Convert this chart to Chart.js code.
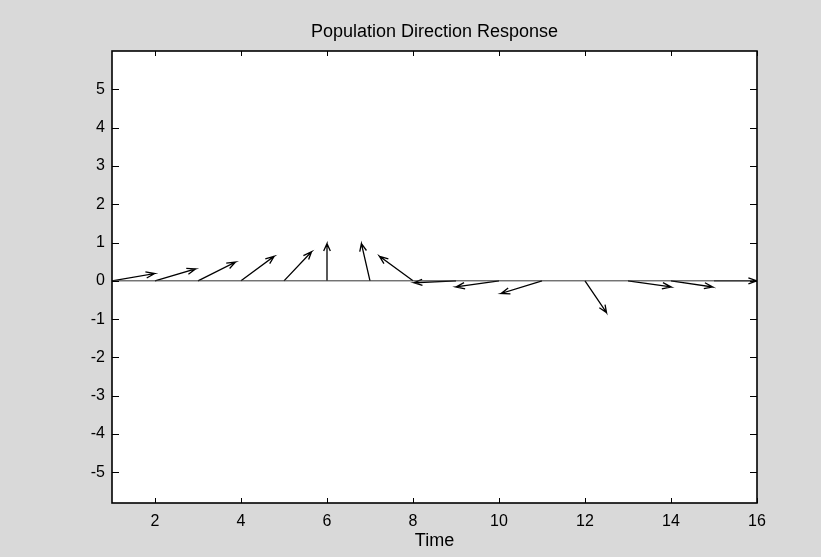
<!DOCTYPE html>
<html>
<head>
<meta charset="utf-8">
<title>Population Direction Response</title>
<script src="https://cdn.jsdelivr.net/npm/chart.js@4.4.1/dist/chart.umd.min.js"></script>
<style>
  html, body { margin: 0; padding: 0; background: #d9d9d9; }
  canvas { display: block; }
</style>
</head>
<body>
<canvas id="featherChart" width="821" height="557"></canvas>
<script>
// =============================================================================
// DATA
// =============================================================================

// arrow tails sit on y = 0 at these times
const times = [1, 2, 3, 4, 5, 6, 7, 8, 9, 10, 11, 12, 13, 14, 15];

// arrow components (east/west and north/south)
const uComp = [0.99, 0.94, 0.87, 0.77, 0.64, 0.00, -0.20, -0.78, -0.98, -1.00, -0.95, 0.50, 1.00, 0.97, 1.00];
const vComp = [0.19, 0.31, 0.49, 0.64, 0.76, 0.97, 0.97, 0.64, -0.05, -0.16, -0.33, -0.83, -0.16, -0.16, 0.00];

// axis ticks and limits
const xTicks = [2, 4, 6, 8, 10, 12, 14, 16];
const yTicks = [-5, -4, -3, -2, -1, 0, 1, 2, 3, 4, 5];
const xLimits = [1, 16];
const yLimits = [-5.8, 6];

// =============================================================================
// BUILD ARROWS (feather-style: tail, tip, barb, tip, barb)
// =============================================================================

const arrowX = [0, 1, 0.8, 1, 0.8];
const arrowY = [0, 0, 0.08, 0, -0.08];

function buildArrow(t, u, v) {
    // multiply the arrow shape by the complex number u + iv
    return arrowX.map((ax, k) => ({
        x: t + ax * u - arrowY[k] * v,
        y: ax * v + arrowY[k] * u
    }));
}

let datasets = times.map((t, i) => ({
    data: buildArrow(t, uComp[i], vComp[i]),
    showLine: true,
    borderColor: '#000000',
    borderWidth: 1.3,
    pointRadius: 0,
    tension: 0
}));

// base line along y = 0
datasets.unshift({
    data: [{ x: times[0], y: 0 }, { x: times[times.length - 1], y: 0 }],
    showLine: true,
    borderColor: '#333333',
    borderWidth: 1,
    pointRadius: 0
});

// =============================================================================
// PLUGINS
// =============================================================================

// gray figure, white axes box
const backgroundPlugin = {
    id: 'backgroundPlugin',
    beforeDraw(chart) {
        const { ctx, chartArea } = chart;
        ctx.save();
        ctx.fillStyle = '#d9d9d9';
        ctx.fillRect(0, 0, chart.width, chart.height);
        ctx.fillStyle = '#ffffff';
        ctx.fillRect(chartArea.left, chartArea.top, chartArea.right - chartArea.left, chartArea.bottom - chartArea.top);
        ctx.restore();
    }
};

// box frame with inward ticks on all four sides
const framePlugin = {
    id: 'framePlugin',
    afterDraw(chart) {
        const { ctx, chartArea } = chart;
        const xs = chart.scales.x;
        const ys = chart.scales.y;
        ctx.save();
        ctx.strokeStyle = '#000000';
        ctx.lineWidth = 1;
        ctx.beginPath();
        xTicks.forEach(v => {
            const px = Math.round(xs.getPixelForValue(v)) + 0.5;
            ctx.moveTo(px, chartArea.bottom);
            ctx.lineTo(px, chartArea.bottom - 5);
            ctx.moveTo(px, chartArea.top);
            ctx.lineTo(px, chartArea.top + 5);
        });
        yTicks.forEach(v => {
            const py = Math.round(ys.getPixelForValue(v)) + 0.5;
            ctx.moveTo(chartArea.left, py);
            ctx.lineTo(chartArea.left + 7, py);
            ctx.moveTo(chartArea.right, py);
            ctx.lineTo(chartArea.right - 7, py);
        });
        ctx.stroke();
        ctx.lineWidth = 1.6;
        ctx.strokeRect(chartArea.left, chartArea.top, chartArea.right - chartArea.left, chartArea.bottom - chartArea.top);
        ctx.restore();
    }
};

// =============================================================================
// CHART
// =============================================================================

const fontFamily = "'Liberation Sans', Arial, sans-serif";

new Chart(document.getElementById('featherChart').getContext('2d'), {
    type: 'scatter',
    data: { datasets: datasets },
    options: {
        responsive: false,
        animation: false,
        devicePixelRatio: 1,
        layout: { padding: { left: 0, right: 64, top: 0, bottom: 0 } },
        plugins: {
            legend: { display: false },
            tooltip: { enabled: false },
            title: {
                display: true,
                fullSize: false, // centre over the axes box, not the whole canvas
                text: 'Population Direction Response',
                color: '#000000',
                font: { family: fontFamily, size: 18, weight: 'normal' },
                padding: { top: 21, bottom: 8.4 }
            }
        },
        scales: {
            x: {
                type: 'linear',
                min: xLimits[0],
                max: xLimits[1],
                grid: { display: false, drawTicks: false },
                border: { display: false },
                ticks: {
                    color: '#000000',
                    font: { family: fontFamily, size: 16 },
                    padding: 9,
                    maxRotation: 0
                },
                title: {
                    display: true,
                    text: 'Time',
                    color: '#000000',
                    font: { family: fontFamily, size: 18 },
                    padding: { top: 0, bottom: 4.7 }
                },
                afterBuildTicks: scale => { scale.ticks = xTicks.map(v => ({ value: v })); },
                afterFit: scale => { scale.height = 54; }
            },
            y: {
                type: 'linear',
                min: yLimits[0],
                max: yLimits[1],
                grid: { display: false, drawTicks: false },
                border: { display: false },
                ticks: {
                    color: '#000000',
                    font: { family: fontFamily, size: 16 },
                    padding: 7
                },
                afterBuildTicks: scale => { scale.ticks = yTicks.map(v => ({ value: v })); },
                afterFit: scale => { scale.width = 112; }
            }
        }
    },
    plugins: [backgroundPlugin, framePlugin]
});
</script>
</body>
</html>
